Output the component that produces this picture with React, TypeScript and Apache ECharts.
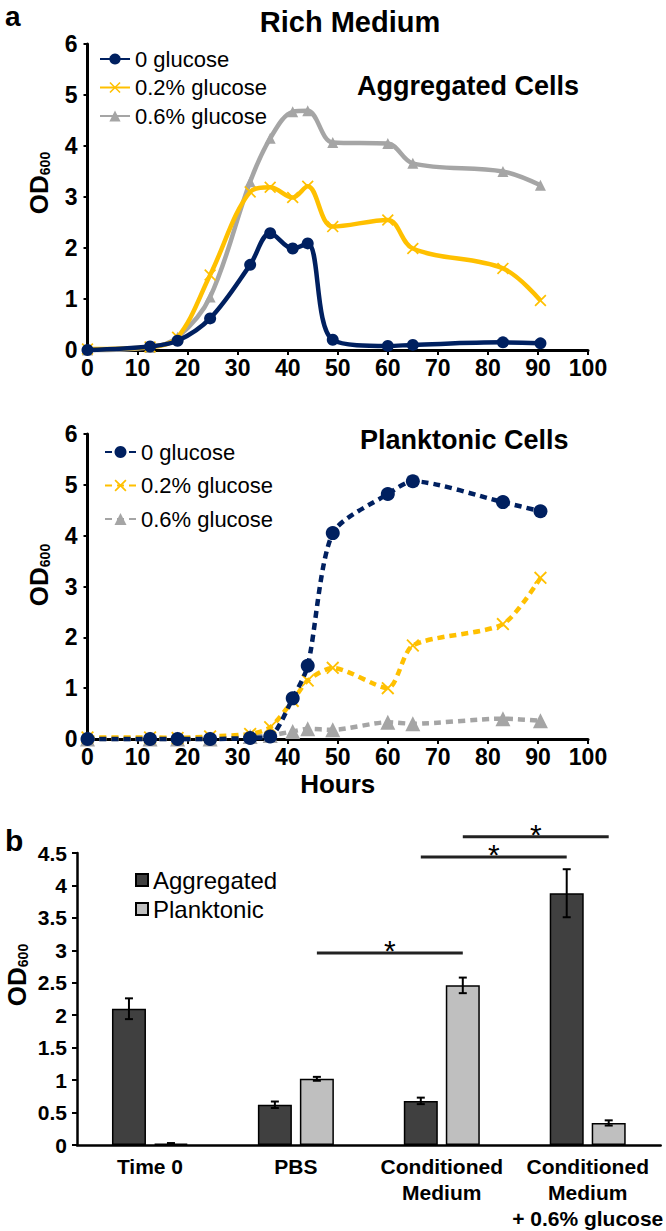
import React, { useEffect, useRef } from 'react';
import * as echarts from 'echarts';

// ---------- data ----------
const hours = [0, 12.5, 18, 24.5, 32.5, 36.5, 41, 44, 49, 60, 65, 83, 90.5];
const xTicks = [0, 10, 20, 30, 40, 50, 60, 70, 80, 90, 100];
const yTicks = [0, 1, 2, 3, 4, 5, 6];

const aggNoGlucose = [0, 0.07, 0.18, 0.62, 1.67, 2.29, 1.99, 2.09, 0.2, 0.08, 0.1, 0.15, 0.13];
const aggLowGlucose = [0.02, 0.06, 0.25, 1.47, 3.1, 3.19, 2.99, 3.21, 2.42, 2.55, 1.99, 1.6, 0.97];
const aggHighGlucose = [0, 0.05, 0.25, 1.04, 3.3, 4.15, 4.67, 4.69, 4.07, 4.05, 3.66, 3.5, 3.23];

const plNoGlucose = [0, 0, 0, 0, 0.02, 0.05, 0.8, 1.44, 4.05, 4.82, 5.07, 4.66, 4.48];
const plLowGlucose = [0.03, 0.03, 0.02, 0.05, 0.1, 0.23, 0.75, 1.15, 1.4, 1.0, 1.84, 2.26, 3.17];
const plHighGlucose = [0, 0, 0, 0, 0.05, 0.07, 0.15, 0.2, 0.18, 0.33, 0.3, 0.4, 0.36];

const legendNames = ['0 glucose', '0.2% glucose', '0.6% glucose'];

const barCategories = ['Time 0', 'PBS', 'Conditioned\nMedium', 'Conditioned\nMedium\n+ 0.6% glucose'];
const barSeriesNames = ['Aggregated', 'Planktonic'];
const aggregatedOD = [2.1, 0.62, 0.68, 3.88];
const aggregatedErr = [0.16, 0.05, 0.05, 0.37];
const planktonicOD = [0.02, 1.02, 2.46, 0.34];
const planktonicErr = [0.01, 0.03, 0.12, 0.04];
const barTicks = [0, 0.5, 1, 1.5, 2, 2.5, 3, 3.5, 4, 4.5];
// significance: [fromCategory, fromSeries, toCategory, toSeries, height]
const sigFrom = [[1, 1], [2, 0], [2, 1]];
const sigTo = [[2, 1], [3, 0], [3, 1]];
const sigHeight = [2.96, 4.44, 4.75];

// ---------- styles ----------
const FONT = 'Liberation Sans, Arial, sans-serif';
const NAVY = '#002060';
const GOLD = '#FFC000';
const GRAY = '#A5A5A5';
const XMARK = 'path://M1,0L5,4L9,0L10,1L6,5L10,9L9,10L5,6L1,10L0,9L4,5L0,1Z';
const BAR_W = 34;
const BAR_GAP = 8;
const OFFSET = (BAR_W + BAR_GAP) / 2;

function pairs(xs: number[], ys: number[]) {
  return xs.map((x, i) => [x, ys[i]]);
}

function lineAxes(gridIndex: number, showName: boolean) {
  const x: any = {
    type: 'value', gridIndex, min: 0, max: 100, interval: 10,
    axisLine: { show: true, lineStyle: { color: '#000', width: 3 } },
    axisTick: { show: true, length: 5, lineStyle: { color: '#000', width: 2 } },
    axisLabel: { color: '#000', fontFamily: FONT, fontWeight: 'bold', fontSize: 23, margin: 6,
      formatter: (v: number) => (xTicks.includes(v) ? String(v) : '') },
    splitLine: { show: false },
  };
  if (showName) {
    x.name = 'Hours';
    x.nameLocation = 'middle';
    x.nameGap = 32;
    x.nameTextStyle = { color: '#000', fontFamily: FONT, fontWeight: 'bold', fontSize: 26 };
  }
  const y: any = {
    type: 'value', gridIndex, min: 0, max: 6, interval: 1,
    axisLine: { show: true, lineStyle: { color: '#000', width: 3 } },
    axisTick: { show: true, length: 4, lineStyle: { color: '#000', width: 2 } },
    axisLabel: { color: '#000', fontFamily: FONT, fontWeight: 'bold', fontSize: 23, margin: 10,
      formatter: (v: number) => (yTicks.includes(v) ? String(v) : '') },
    splitLine: { show: false },
  };
  return { x, y };
}

function lineSeries(prefix: string, idx: number, values: number[][], dashed: boolean) {
  const colors = [NAVY, GOLD, GRAY];
  const symbols = ['circle', XMARK, 'triangle'];
  const sizes = dashed ? [14, 13, 15] : [12, 12, 11];
  return values.map((vals, i) => ({
    type: 'line',
    name: prefix + legendNames[i],
    xAxisIndex: idx, yAxisIndex: idx,
    data: pairs(hours, vals),
    smooth: dashed ? 0.25 : 0.35,
    clip: false,
    symbol: symbols[i],
    symbolSize: sizes[i],
    showAllSymbol: true,
    itemStyle: { color: colors[i] },
    lineStyle: { color: colors[i], width: 4.5, type: dashed ? [7, 5] : 'solid' },
    z: 3 - i + 2,
  }));
}

function odLabel(x: number, y: number, size: number) {
  return {
    type: 'text', x, y, rotation: Math.PI / 2,
    style: {
      text: '{a|OD}{b|600}',
      align: 'center', verticalAlign: 'middle',
      rich: {
        a: { fontFamily: FONT, fontWeight: 'bold', fontSize: size, fill: '#000', lineHeight: size + 4 },
        b: { fontFamily: FONT, fontWeight: 'bold', fontSize: Math.round(size * 0.52), fill: '#000', verticalAlign: 'bottom', lineHeight: Math.round(size * 0.52), padding: [0, 0, 2, 0] },
      },
    },
  };
}

export default function App() {
  const ref = useRef<HTMLDivElement>(null);
  useEffect(() => {
    if (!ref.current) return;
    const chart = echarts.init(ref.current, null, { renderer: 'svg' });
    const top = lineAxes(0, false);
    const mid = lineAxes(1, true);

    const errSeries = (vals: number[], errs: number[], sign: number) => ({
      type: 'custom',
      xAxisIndex: 2, yAxisIndex: 2,
      clip: false,
      z: 5,
      data: vals.map((v, i) => [i, v, errs[i]]),
      encode: { x: 0, y: 1 },
      renderItem: (params: any, api: any) => {
        const c = api.value(0), v = api.value(1), e = api.value(2);
        const p1 = api.coord([c, v + e]);
        const p2 = api.coord([c, v - e]);
        const x = p1[0] + sign * OFFSET;
        const st = { stroke: '#000', lineWidth: 2 };
        return {
          type: 'group',
          children: [
            { type: 'line', shape: { x1: x, y1: p1[1], x2: x, y2: p2[1] }, style: st },
            { type: 'line', shape: { x1: x - 4, y1: p1[1], x2: x + 4, y2: p1[1] }, style: st },
            { type: 'line', shape: { x1: x - 4, y1: p2[1], x2: x + 4, y2: p2[1] }, style: st },
          ],
        };
      },
    });

    const sigSeries = {
      type: 'custom',
      xAxisIndex: 2, yAxisIndex: 2,
      clip: false,
      z: 6,
      data: sigHeight.map((h, i) => [sigFrom[i][0], h, sigFrom[i][1], sigTo[i][0], sigTo[i][1]]),
      encode: { x: 0, y: 1 },
      renderItem: (params: any, api: any) => {
        const c1 = api.value(0), h = api.value(1), s1 = api.value(2), c2 = api.value(3), s2 = api.value(4);
        const a = api.coord([c1, h]);
        const b = api.coord([c2, h]);
        const xa = a[0] + (s1 === 0 ? -OFFSET : OFFSET);
        const xb = b[0] + (s2 === 0 ? -OFFSET : OFFSET);
        return {
          type: 'group',
          children: [
            { type: 'line', shape: { x1: xa, y1: a[1], x2: xb, y2: a[1] }, style: { stroke: '#222', lineWidth: 3 } },
            { type: 'text', x: (xa + xb) / 2, y: a[1] - 2, style: { text: '*', align: 'center', verticalAlign: 'middle', fontFamily: FONT, fontSize: 30, fill: '#000' } },
          ],
        };
      },
    };

    const option: any = {
      animation: false,
      backgroundColor: '#fff',
      grid: [
        { left: 87.5, top: 44, width: 500.5, height: 306 },
        { left: 87.5, top: 434, width: 500.5, height: 305 },
        { left: 77, top: 853, width: 586, height: 293 },
      ],
      xAxis: [
        top.x, mid.x,
        {
          type: 'category', gridIndex: 2, data: barCategories,
          axisLine: { show: true, lineStyle: { color: '#000', width: 2.5 } },
          axisTick: { show: false },
          axisLabel: { color: '#000', fontFamily: FONT, fontWeight: 'bold', fontSize: 21, lineHeight: 26, margin: 8, interval: 0 },
        },
      ],
      yAxis: [
        top.y, mid.y,
        {
          type: 'value', gridIndex: 2, min: 0, max: 4.5, interval: 0.5,
          axisLine: { show: true, lineStyle: { color: '#000', width: 2.5 } },
          axisTick: { show: true, length: 5, lineStyle: { color: '#000', width: 2 } },
          axisLabel: { color: '#000', fontFamily: FONT, fontWeight: 'bold', fontSize: 21, margin: 10,
            formatter: (v: number) => (barTicks.includes(v) ? String(v) : '') },
          splitLine: { show: false },
        },
      ],
      legend: [
        {
          left: 99, top: 48, orient: 'vertical', itemWidth: 30, itemHeight: 14, itemGap: 6.5, padding: 0,
          data: legendNames.map((n) => 'Agg ' + n),
          formatter: (n: string) => n.replace(/^Agg /, ''),
          textStyle: { fontFamily: FONT, fontSize: 22, color: '#000', lineHeight: 22 },
          selectedMode: false,
        },
        {
          left: 104, top: 441, orient: 'vertical', itemWidth: 31, itemHeight: 15, itemGap: 11.5, padding: 0,
          data: legendNames.map((n) => 'Pl ' + n),
          formatter: (n: string) => n.replace(/^Pl /, ''),
          textStyle: { fontFamily: FONT, fontSize: 22, color: '#000', lineHeight: 22 },
          selectedMode: false,
        },
        {
          left: 135, top: 868, orient: 'vertical', itemWidth: 12, itemHeight: 12, itemGap: 5, padding: 0,
          data: barSeriesNames,
          icon: 'rect',
          textStyle: { fontFamily: FONT, fontSize: 24, color: '#000', lineHeight: 24 },
          selectedMode: false,
        },
      ],
      graphic: [
        { type: 'text', x: 5, y: 16, style: { text: 'a', fontFamily: FONT, fontWeight: 'bold', fontSize: 28, fill: '#000', verticalAlign: 'middle' } },
        { type: 'text', x: 350, y: 22, style: { text: 'Rich Medium', fontFamily: FONT, fontWeight: 'bold', fontSize: 29, fill: '#000', align: 'center', verticalAlign: 'middle' } },
        { type: 'text', x: 357, y: 86, style: { text: 'Aggregated Cells', fontFamily: FONT, fontWeight: 'bold', fontSize: 27, fill: '#000', verticalAlign: 'middle' } },
        { type: 'text', x: 360, y: 440, style: { text: 'Planktonic Cells', fontFamily: FONT, fontWeight: 'bold', fontSize: 27, fill: '#000', verticalAlign: 'middle' } },
        { type: 'text', x: 5, y: 840, style: { text: 'b', fontFamily: FONT, fontWeight: 'bold', fontSize: 30, fill: '#000', verticalAlign: 'middle' } },
        odLabel(39, 183, 26),
        odLabel(39, 575, 26),
        odLabel(17, 975, 26),
      ],
      series: [
        ...lineSeries('Agg ', 0, [aggNoGlucose, aggLowGlucose, aggHighGlucose], false),
        ...lineSeries('Pl ', 1, [plNoGlucose, plLowGlucose, plHighGlucose], true),
        {
          type: 'bar', name: barSeriesNames[0], xAxisIndex: 2, yAxisIndex: 2,
          data: aggregatedOD, barWidth: BAR_W, barGap: (BAR_GAP / BAR_W * 100).toFixed(1) + '%',
          itemStyle: { color: '#404040', borderColor: '#000', borderWidth: 1.5 },
        },
        {
          type: 'bar', name: barSeriesNames[1], xAxisIndex: 2, yAxisIndex: 2,
          data: planktonicOD, barWidth: BAR_W,
          itemStyle: { color: '#BFBFBF', borderColor: '#000', borderWidth: 1.5 },
        },
        errSeries(aggregatedOD, aggregatedErr, -1),
        errSeries(planktonicOD, planktonicErr, 1),
        sigSeries,
      ],
    };
    chart.setOption(option);
    return () => chart.dispose();
  }, []);
  return (
    <div
      ref={ref}
      style={{ position: 'absolute', left: 0, top: 0, width: 666, height: 1231, background: '#fff' }}
    />
  );
}
